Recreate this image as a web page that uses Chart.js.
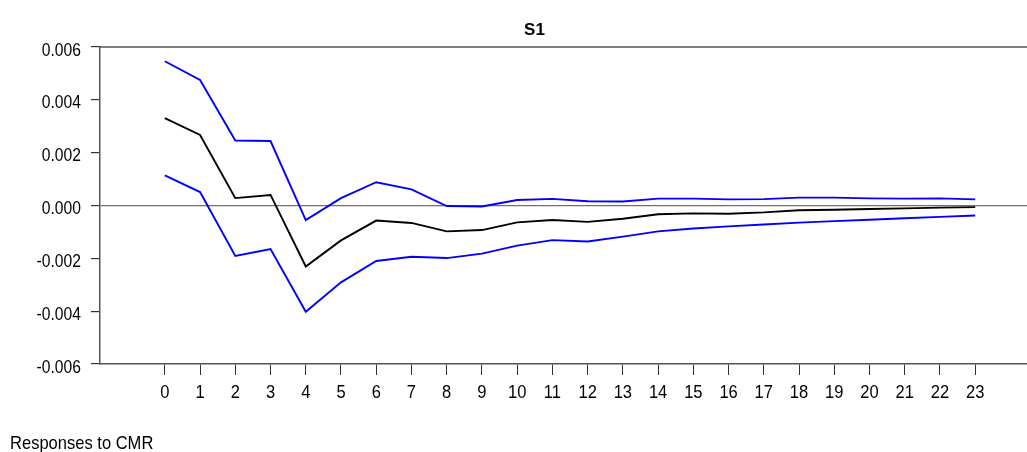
<!DOCTYPE html>
<html>
<head>
<meta charset="utf-8">
<script src="https://cdn.jsdelivr.net/npm/chart.js@4/dist/chart.umd.min.js"></script>
<style>
  html, body { margin: 0; padding: 0; background: #fff; }
  #wrap { width: 1027px; height: 452px; position: relative; }
</style>
</head>
<body>
<div id="wrap"><canvas id="c" width="1027" height="452"></canvas></div>
<script>
// Impulse response of S1 to a CMR shock, with upper / lower bands
const periods = ['0','1','2','3','4','5','6','7','8','9','10','11','12','13','14','15','16','17','18','19','20','21','22','23'];
const response = [0.00331, 0.00267, 0.00028, 0.00040, -0.00231, -0.00132, -0.00057, -0.00066, -0.00098, -0.00093, -0.00064, -0.00055, -0.00062, -0.00050, -0.00033, -0.00030, -0.00031, -0.00026, -0.00018, -0.00016, -0.00013, -0.00011, -0.00008, -0.00006];
const upperBand = [0.00546, 0.00475, 0.00246, 0.00244, -0.00055, 0.00028, 0.00088, 0.00061, -0.00002, -0.00004, 0.00021, 0.00025, 0.00016, 0.00015, 0.00026, 0.00026, 0.00023, 0.00024, 0.00030, 0.00030, 0.00027, 0.00026, 0.00027, 0.00023];
const lowerBand = [0.00114, 0.00051, -0.00191, -0.00165, -0.00402, -0.00291, -0.00210, -0.00194, -0.00199, -0.00182, -0.00152, -0.00131, -0.00136, -0.00118, -0.00098, -0.00087, -0.00079, -0.00072, -0.00065, -0.00059, -0.00054, -0.00048, -0.00043, -0.00038];
const yTicks = [-0.006, -0.004, -0.002, 0.000, 0.002, 0.004, 0.006];
const chartTitle = 'S1';
const footerText = 'Responses to CMR';

const FONT = "'Liberation Sans', Arial, sans-serif";
const SQUEEZE = 0.87; // condensed look for the axis and footer text
const toPoints = vals => vals.map((v, i) => ({ x: Number(periods[i]), y: v }));

// draw text horizontally condensed, anchored at x by align
function condensedText(ctx, text, x, y, align) {
  const w = ctx.measureText(text).width * SQUEEZE;
  let left = x;
  if (align === 'right') left = x - w;
  else if (align === 'center') left = x - w / 2;
  ctx.save();
  ctx.translate(left, y);
  ctx.scale(SQUEEZE, 1);
  ctx.textAlign = 'left';
  ctx.fillText(text, 0, 0);
  ctx.restore();
}

// Title, footer, tick labels and top frame line
const decorations = {
  id: 'decorations',
  afterDraw(chart) {
    const { ctx, chartArea, scales } = chart;
    ctx.save();
    ctx.strokeStyle = '#555';
    ctx.lineWidth = 1.5;
    ctx.beginPath();
    ctx.moveTo(chartArea.left, chartArea.top);
    ctx.lineTo(chartArea.right, chartArea.top);
    ctx.stroke();

    ctx.fillStyle = '#000';
    ctx.textBaseline = 'alphabetic';

    ctx.font = 'bold 17px ' + FONT;
    ctx.textAlign = 'center';
    ctx.fillText(chartTitle, 534.5, 34.5);

    ctx.font = '19px ' + FONT;
    condensedText(ctx, footerText, 10, 449, 'left');

    ctx.font = '19px ' + FONT;
    periods.forEach(p => {
      const px = scales.x.getPixelForValue(Number(p));
      condensedText(ctx, p, px, 397.5, 'center');
    });

    ctx.font = '18px ' + FONT;
    yTicks.forEach(v => {
      const py = scales.y.getPixelForValue(v);
      condensedText(ctx, v.toFixed(3), 81, py + 8.5, 'right');
    });
    ctx.restore();
  }
};

new Chart(document.getElementById('c'), {
  type: 'line',
  data: {
    datasets: [
      { data: toPoints(upperBand), borderColor: '#0000ff', borderWidth: 1.9 },
      { data: toPoints(response), borderColor: '#000000', borderWidth: 1.9 },
      { data: toPoints(lowerBand), borderColor: '#0000ff', borderWidth: 1.9 }
    ]
  },
  options: {
    responsive: false,
    animation: false,
    devicePixelRatio: 1,
    layout: { padding: { left: 0, right: 0, top: 47, bottom: 0 } },
    elements: { point: { radius: 0 }, line: { tension: 0 } },
    plugins: { legend: { display: false }, tooltip: { enabled: false }, title: { display: false } },
    scales: {
      x: {
        type: 'linear',
        min: -1.84,
        max: 24.47,
        afterFit(scale) { scale.height = 88; },
        afterBuildTicks(scale) { scale.ticks = periods.map(p => ({ value: Number(p) })); },
        border: { display: true, color: '#555', width: 1.5 },
        grid: { drawOnChartArea: false, drawTicks: true, tickLength: 11, tickColor: '#333', lineWidth: 1 },
        ticks: {
          autoSkip: false,
          maxRotation: 0,
          padding: 4,
          color: 'rgba(0,0,0,0)',
          font: { family: FONT, size: 19 },
          callback: (v) => String(v)
        }
      },
      y: {
        min: -0.006,
        max: 0.006,
        afterFit(scale) { scale.width = 100; },
        afterBuildTicks(scale) { scale.ticks = yTicks.map(v => ({ value: v })); },
        border: { display: true, color: '#555', width: 1.5 },
        grid: {
          drawOnChartArea: true,
          drawTicks: true,
          tickLength: 9,
          tickColor: '#333',
          lineWidth: 1.2,
          color: (c) => (c.tick && c.tick.value === 0 ? '#707070' : 'rgba(0,0,0,0)')
        },
        ticks: {
          padding: 9,
          color: 'rgba(0,0,0,0)',
          font: { family: FONT, size: 18 },
          callback: (v) => v.toFixed(3)
        }
      }
    }
  },
  plugins: [decorations]
});
</script>
</body>
</html>
